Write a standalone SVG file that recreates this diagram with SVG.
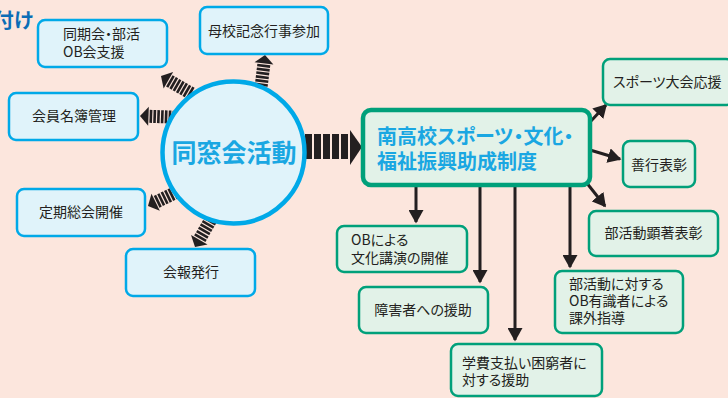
<svg xmlns="http://www.w3.org/2000/svg" width="728" height="398" viewBox="0 0 728 398">
<style>
.bg{fill:#fce6dd}
.bb{fill:#e0f3fa;stroke:#00a9e8;stroke-width:2.5}
.gb{fill:#e2f2e8;stroke:#00a07a;stroke-width:2.5}
.t{font-family:"Noto Sans CJK JP","Noto Sans",sans-serif;font-size:14px;fill:#231f20;font-feature-settings:"palt"}
.c{text-anchor:middle}
.bt{font-family:"Noto Sans CJK JP","Noto Sans",sans-serif;font-weight:bold;fill:#1aa7e2;font-feature-settings:"palt"}
.ln{stroke:#231f20;stroke-width:3;fill:none;marker-end:url(#ah)}
</style>
<defs>
<marker id="ah" markerWidth="5" markerHeight="5" refX="4" refY="2.5" orient="auto" markerUnits="strokeWidth">
<path d="M0,0 L4.5,2.5 L0,5 Z" fill="#231f20"/>
</marker>
<g id="sa" fill="#231f20">
<rect x="-6" y="-6.5" width="2.6" height="13"/>
<rect x="-2.2" y="-6.5" width="2.6" height="13"/>
<rect x="1.6" y="-6.5" width="2.6" height="13"/>
<rect x="5.4" y="-6.5" width="2.6" height="13"/>
<rect x="9.2" y="-6.5" width="2.6" height="13"/>
<rect x="13" y="-6.5" width="2.6" height="13"/>
<rect x="16.8" y="-6.5" width="2.6" height="13"/>
<path d="M20.5,-9.5 L29,0 L20.5,9.5 Z"/>
</g>
</defs>
<rect class="bg" x="0" y="0" width="728" height="398"/>
<text class="bt" x="33" y="28" font-size="20" text-anchor="end" style="fill:#0b6db6">付け</text>

<g id="connectors">
<use href="#sa" transform="translate(161,76) rotate(210) translate(-29,0)"/>
<use href="#sa" transform="translate(265,55) rotate(-83) translate(-29,0)"/>
<use href="#sa" transform="translate(140,116) rotate(182) translate(-29,0)"/>
<use href="#sa" transform="translate(148,206) rotate(154) translate(-29,0)"/>
<use href="#sa" transform="translate(195,247) rotate(120) translate(-29,0)"/>
<g fill="#231f20">
<rect x="305" y="134" width="7" height="25"/>
<rect x="314" y="134" width="7" height="25"/>
<rect x="323" y="134" width="7" height="25"/>
<rect x="332" y="134" width="7" height="25"/>
<rect x="341" y="134" width="7" height="25"/>
<path d="M350,130 L362,147 L350,165 Z"/>
</g>
<line class="ln" x1="590" y1="122" x2="606" y2="105"/>
<line class="ln" x1="590" y1="150" x2="620" y2="159"/>
<line class="ln" x1="586" y1="182" x2="605" y2="206"/>
<line class="ln" x1="416" y1="185" x2="416" y2="222"/>
<line class="ln" x1="480" y1="185" x2="480" y2="282"/>
<line class="ln" x1="515" y1="185" x2="515" y2="340"/>
<line class="ln" x1="570" y1="185" x2="570" y2="267"/>
</g>

<g id="n-center">
<circle cx="233.5" cy="152.5" r="71" fill="#e0f3fa" stroke="#00a9e8" stroke-width="4.5"/>
<text class="bt c" x="234" y="162" font-size="25">同窓会活動</text>
</g>
<g id="n-doki">
<rect class="bb" x="38" y="20" width="129" height="47" rx="7"/>
<text class="t" x="63" y="39">同期会・部活</text>
<text class="t" x="63" y="57">OB会支援</text>
</g>
<g id="n-boko">
<rect class="bb" x="200" y="7" width="128" height="47" rx="7"/>
<text class="t c" x="264" y="36">母校記念行事参加</text>
</g>
<g id="n-meibo">
<rect class="bb" x="9" y="93" width="129" height="47" rx="7"/>
<text class="t c" x="74" y="121">会員名簿管理</text>
</g>
<g id="n-sokai">
<rect class="bb" x="17" y="189" width="128" height="47" rx="7"/>
<text class="t c" x="81" y="217">定期総会開催</text>
</g>
<g id="n-kaiho">
<rect class="bb" x="126" y="249" width="129" height="47" rx="7"/>
<text class="t c" x="191" y="277">会報発行</text>
</g>

<g id="n-main">
<rect x="363" y="110" width="227" height="75" rx="8" fill="#e2f2e8" stroke="#00a07a" stroke-width="4.5"/>
<text class="bt" x="377" y="144" font-size="20">南高校スポーツ・文化・</text>
<text class="bt" x="377" y="169" font-size="20">福祉振興助成制度</text>
</g>
<g id="n-sports">
<rect class="gb" x="603" y="59" width="130" height="46" rx="7"/>
<text class="t" x="613" y="87">スポーツ大会応援</text>
</g>
<g id="n-zenko">
<rect class="gb" x="623" y="141" width="72" height="46" rx="7"/>
<text class="t c" x="659" y="170">善行表彰</text>
</g>
<g id="n-bukatsu">
<rect class="gb" x="589" y="211" width="129" height="45" rx="7"/>
<text class="t c" x="653.5" y="238">部活動顕著表彰</text>
</g>
<g id="n-ob">
<rect class="gb" x="337" y="226" width="130" height="46" rx="7"/>
<text class="t" x="351" y="245">OBによる</text>
<text class="t" x="351" y="263">文化講演の開催</text>
</g>
<g id="n-shogai">
<rect class="gb" x="359" y="287" width="129" height="46" rx="7"/>
<text class="t c" x="423" y="315">障害者への援助</text>
</g>
<g id="n-gakuhi">
<rect class="gb" x="451" y="344" width="151" height="52" rx="7"/>
<text class="t" x="462" y="368">学費支払い困窮者に</text>
<text class="t" x="462" y="385">対する援助</text>
</g>
<g id="n-kagai">
<rect class="gb" x="555" y="271" width="128" height="62" rx="7"/>
<text class="t" x="569" y="289">部活動に対する</text>
<text class="t" x="569" y="306">OB有識者による</text>
<text class="t" x="569" y="323">課外指導</text>
</g>
</svg>
